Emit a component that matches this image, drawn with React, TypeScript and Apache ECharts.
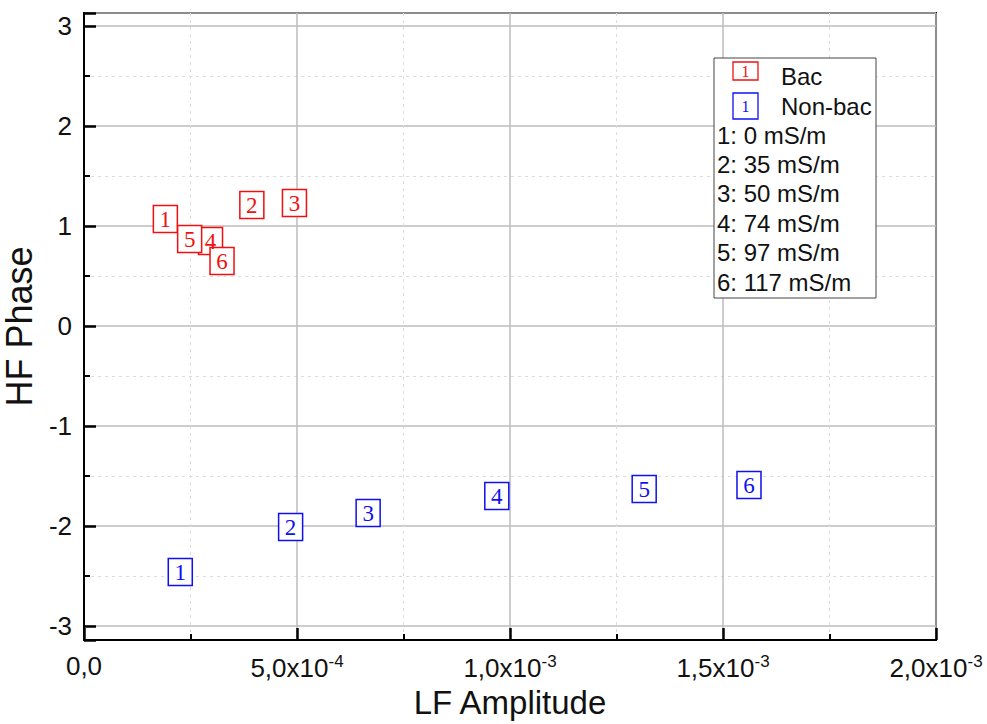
import React, { useEffect, useRef } from "react";
import * as echarts from "echarts";

// ---- data ----
const labels = ["1", "2", "3", "4", "5", "6"];
const conductivity = [0, 35, 50, 74, 97, 117]; // mS/m
const bacLF = [1.91e-4, 3.94e-4, 4.94e-4, 2.97e-4, 2.48e-4, 3.24e-4];
const bacHF = [1.07, 1.21, 1.23, 0.85, 0.87, 0.65];
const nonbacLF = [2.26e-4, 4.85e-4, 6.67e-4, 9.69e-4, 1.315e-3, 1.561e-3];
const nonbacHF = [-2.46, -2.01, -1.87, -1.70, -1.63, -1.59];
const xTicks = [0, 5e-4, 1e-3, 1.5e-3, 2e-3];
const yTicks = [-3, -2, -1, 0, 1, 2, 3];

const RED = "#f01010";
const BLUE = "#1010f0";
const SANS = "Liberation Sans, Arial, sans-serif";
const SERIF = "Liberation Serif, Times New Roman, serif";

function xLabel(v: number): string {
  if (Math.abs(v) < 1e-12) return "{a|0,0}";
  const exp = Math.floor(Math.log10(v) + 1e-9);
  const m = v / Math.pow(10, exp);
  return `{a|${m.toFixed(1).replace(".", ",")}x10}{s|${exp}}`;
}

function yLabel(v: number): string {
  const r = Math.round(v);
  if (Math.abs(v - r) > 1e-9) return "";
  return yTicks.indexOf(r) >= 0 ? String(r) : "";
}

function markerSeries(name: string, xs: number[], ys: number[], color: string) {
  return {
    name,
    type: "scatter",
    symbol: "rect",
    symbolSize: [24, 27],
    data: xs.map((x, i) => [x, ys[i], labels[i]]),
    itemStyle: { color: "#ffffff", borderColor: color, borderWidth: 1.6, opacity: 1 },
    label: {
      show: true,
      position: "inside",
      formatter: (p: any) => p.value[2],
      color,
      fontFamily: SERIF,
      fontSize: 23,
    },
    emphasis: { disabled: true },
    z: 3,
  };
}

export default function App() {
  const ref = useRef<HTMLDivElement>(null);
  useEffect(() => {
    if (!ref.current) return;
    const chart = echarts.init(ref.current, undefined, { renderer: "svg" });
    const legendX = 714;
    const legendY = 58;
    const legendGraphics: any[] = [
      {
        type: "rect",
        shape: { x: legendX, y: legendY, width: 162, height: 240 },
        style: { fill: "#ffffff", stroke: "#444", lineWidth: 1 },
        z: 10,
      },
      {
        type: "rect",
        shape: { x: 733, y: 62, width: 25, height: 18 },
        style: { fill: "#fff", stroke: RED, lineWidth: 1.3 },
        z: 11,
      },
      {
        type: "text",
        x: 745.5,
        y: 71.5,
        style: { text: labels[0], fill: RED, font: `16px ${SERIF}`, align: "center", verticalAlign: "middle" },
        z: 12,
      },
      {
        type: "rect",
        shape: { x: 733, y: 93, width: 25, height: 26 },
        style: { fill: "#fff", stroke: BLUE, lineWidth: 1.3 },
        z: 11,
      },
      {
        type: "text",
        x: 745.5,
        y: 106.5,
        style: { text: labels[0], fill: BLUE, font: `16px ${SERIF}`, align: "center", verticalAlign: "middle" },
        z: 12,
      },
      {
        type: "text",
        x: 781,
        y: 76,
        style: { text: "Bac", fill: "#111", font: `24px ${SANS}`, verticalAlign: "middle" },
        z: 12,
      },
      {
        type: "text",
        x: 781,
        y: 106,
        style: { text: "Non-bac", fill: "#111", font: `24px ${SANS}`, verticalAlign: "middle" },
        z: 12,
      },
      ...conductivity.map((c, i) => ({
        type: "text",
        x: 717,
        y: 135 + 29.4 * i,
        style: {
          text: `${labels[i]}: ${c} mS/m`,
          fill: "#111",
          font: `24px ${SANS}`,
          verticalAlign: "middle",
        },
        z: 12,
      })),
    ];

    chart.setOption({
      animation: false,
      backgroundColor: "#ffffff",
      grid: {
        left: 84,
        right: 51,
        top: 13,
        bottom: 84,
        show: true,
        borderColor: "#000",
        borderWidth: 2,
        backgroundColor: "transparent",
        containLabel: false,
        outerBoundsMode: "none",
      },
      xAxis: {
        type: "value",
        min: 0,
        max: 2e-3,
        interval: 5e-4,
        name: "LF Amplitude",
        nameLocation: "middle",
        nameGap: 46,
        nameTextStyle: { fontFamily: SANS, fontSize: 33, color: "#111", verticalAlign: "top" },
        axisLine: { show: true, onZero: false, lineStyle: { color: "#000", width: 2 } },
        axisTick: { show: true, inside: true, length: 12, lineStyle: { color: "#000", width: 2.5 } },
        minorTick: { show: true, splitNumber: 2, length: 6, lineStyle: { color: "#000", width: 2 } },
        splitLine: { show: true, lineStyle: { color: "#bdbdbd", width: 1.5 } },
        minorSplitLine: { show: true, lineStyle: { color: "#dcdcdc", width: 1, type: [3, 4] } },
        axisLabel: {
          margin: 13,
          formatter: xLabel,
          color: "#111",
          fontFamily: SANS,
          fontSize: 26,
          rich: {
            a: { fontFamily: SANS, fontSize: 26, color: "#111" },
            s: { fontFamily: SANS, fontSize: 17, color: "#111", verticalAlign: "top", padding: [0, 0, 12, 0] },
          },
        },
      },
      yAxis: {
        type: "value",
        min: -3.14,
        max: 3.13,
        splitNumber: 6,
        name: "HF Phase",
        nameLocation: "middle",
        nameGap: 36,
        nameRotate: 90,
        nameTextStyle: { fontFamily: SANS, fontSize: 36, color: "#111", lineHeight: 36 },
        axisLine: { show: true, onZero: false, lineStyle: { color: "#000", width: 2 } },
        axisTick: { show: true, inside: true, length: 12, lineStyle: { color: "#000", width: 2.5 } },
        minorTick: { show: true, splitNumber: 2, length: 6, lineStyle: { color: "#000", width: 2 } },
        splitLine: { show: true, lineStyle: { color: "#bdbdbd", width: 1.5 } },
        minorSplitLine: { show: true, lineStyle: { color: "#dcdcdc", width: 1, type: [3, 4] } },
        axisLabel: {
          margin: 12,
          formatter: yLabel,
          fontFamily: SANS,
          fontSize: 26,
          color: "#111",
        },
      },
      series: [
        markerSeries("Bac", bacLF, bacHF, RED),
        markerSeries("Non-bac", nonbacLF, nonbacHF, BLUE),
      ],
      graphic: legendGraphics,
    });
    return () => chart.dispose();
  }, []);
  return (
    <div
      ref={ref}
      style={{ position: "fixed", left: 0, top: 0, width: 987, height: 724, background: "#fff" }}
    />
  );
}
